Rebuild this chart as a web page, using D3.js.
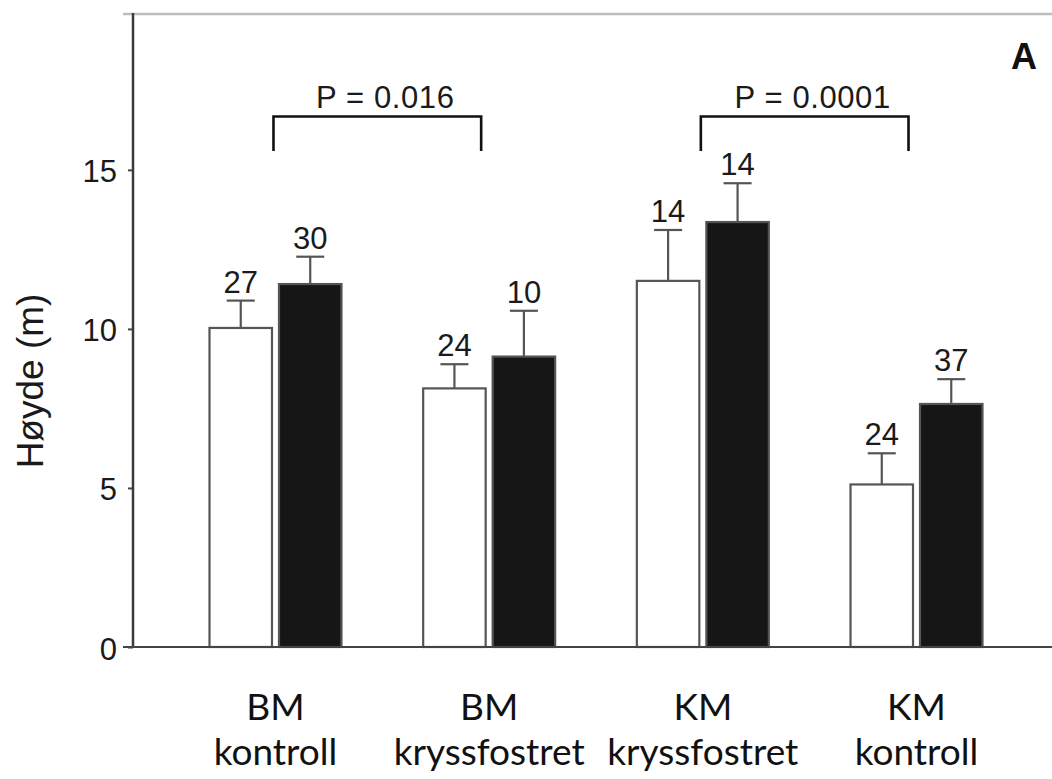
<!DOCTYPE html>
<html>
<head>
<meta charset="utf-8">
<script src="https://cdn.jsdelivr.net/npm/d3@7/dist/d3.min.js"></script>
<style>
  html, body { margin: 0; padding: 0; background: #fff; }
  svg { display: block; }
</style>
</head>
<body>
<svg id="chart" width="1052" height="779"></svg>
<script>
// ---- data ----
const categories = ["BM|kontroll", "BM|kryssfostret", "KM|kryssfostret", "KM|kontroll"];
const seriesKeys = ["open", "filled"];
const openMeans   = [10.03, 8.13, 11.51, 5.11];
const openErrors  = [0.86, 0.76, 1.60, 0.98];
const openN       = [27, 24, 14, 24];
const filledMeans  = [11.41, 9.13, 13.36, 7.64];
const filledErrors = [0.86, 1.44, 1.22, 0.78];
const filledN      = [30, 10, 14, 37];
const yTicks = [0, 5, 10, 15];
const yMax = 19.9;
const comparisons = [
  { from: 0, to: 1, label: "P = 0.016" },
  { from: 2, to: 3, label: "P = 0.0001" }
];
const yTitle = "Høyde (m)";
const panelLetter = "A";

// ---- layout ----
const svg = d3.select("#chart");
const axisX = 133;
const W = 1052;

const y = d3.scaleLinear().domain([0, yMax]).range([647, 14]);
const x = d3.scaleBand().domain(categories).range([168.65, 1023.35])
  .paddingInner(0.373).paddingOuter(0.1865);
const xs = d3.scaleBand().domain(seriesKeys).range([0, x.bandwidth()]).paddingInner(0.072);

const rows = categories.map((c, i) => ({
  cat: c,
  bars: [
    { key: "open", mean: openMeans[i], err: openErrors[i], n: openN[i] },
    { key: "filled", mean: filledMeans[i], err: filledErrors[i], n: filledN[i] }
  ]
}));

const numFont = "'Liberation Sans', Arial, Helvetica, sans-serif";

// top frame line
svg.append("line")
  .attr("x1", 123).attr("x2", W).attr("y1", y(yMax)).attr("y2", y(yMax))
  .attr("stroke", "#bdbdbd").attr("stroke-width", 2.5);

// bars
const g = svg.append("g");
rows.forEach(r => {
  const gx = x(r.cat);
  r.bars.forEach(b => {
    const bx = gx + xs(b.key);
    const bw = xs.bandwidth();
    const cx = bx + bw / 2;
    g.append("line")
      .attr("x1", cx).attr("x2", cx)
      .attr("y1", y(b.mean)).attr("y2", y(b.mean + b.err))
      .attr("stroke", "#555").attr("stroke-width", 2.2);
    g.append("line")
      .attr("x1", cx - 14).attr("x2", cx + 14)
      .attr("y1", y(b.mean + b.err)).attr("y2", y(b.mean + b.err))
      .attr("stroke", "#555").attr("stroke-width", 2.2);
    g.append("rect")
      .attr("x", bx + 1).attr("y", y(b.mean))
      .attr("width", bw - 2).attr("height", y(0) - y(b.mean))
      .attr("fill", b.key === "open" ? "#ffffff" : "#161616")
      .attr("stroke", "#555").attr("stroke-width", 2.2);
    g.append("text")
      .attr("x", cx).attr("y", y(b.mean + b.err) - 8)
      .attr("text-anchor", "middle")
      .attr("font-family", numFont).attr("font-size", 31)
      .attr("fill", "#1a1a1a")
      .text(b.n);
  });
});

// y axis
const yAxis = d3.axisLeft(y).tickValues(yTicks).tickSize(5).tickPadding(11)
  .tickFormat(d3.format("d"));
const ya = svg.append("g").attr("transform", `translate(${axisX},0)`).call(yAxis);
ya.select(".domain").remove();
ya.selectAll(".tick line").attr("stroke", "#444").attr("stroke-width", 2);
ya.selectAll(".tick text")
  .attr("font-family", numFont).attr("font-size", 31).attr("fill", "#1a1a1a")
  .attr("dy", null).attr("dominant-baseline", "auto")
  .attr("y", 12);
svg.append("line")
  .attr("x1", axisX).attr("x2", axisX).attr("y1", y(yMax) - 1).attr("y2", y(0))
  .attr("stroke", "#3a3a3a").attr("stroke-width", 2.5);

// baseline
svg.append("line")
  .attr("x1", 123).attr("x2", W).attr("y1", y(0)).attr("y2", y(0))
  .attr("stroke", "#444").attr("stroke-width", 2.2);

// y title
svg.append("text")
  .attr("transform", `translate(43, ${381}) rotate(-90)`)
  .attr("text-anchor", "middle")
  .attr("font-family", numFont).attr("font-size", 37).attr("fill", "#1a1a1a")
  .text(yTitle);

// panel letter
svg.append("text")
  .attr("x", 1037).attr("y", 69).attr("text-anchor", "end")
  .attr("font-family", numFont).attr("font-weight", "bold").attr("font-size", 36)
  .attr("fill", "#111")
  .text(panelLetter);

// comparison brackets
const brY = 116.5, brBottom = 151;
comparisons.forEach(c => {
  const x1 = x(categories[c.from]) + x.bandwidth() / 2 - 2;
  const x2 = x(categories[c.to]) + x.bandwidth() / 2 - 8;
  svg.append("path")
    .attr("d", `M${x1},${brBottom}V${brY}H${x2}V${brBottom}`)
    .attr("fill", "none").attr("stroke", "#111").attr("stroke-width", 2.6);
  svg.append("text")
    .attr("x", (x1 + x2) / 2 + 8).attr("y", brY - 9)
    .attr("text-anchor", "middle")
    .attr("font-family", numFont).attr("font-size", 31).attr("fill", "#1a1a1a")
    .attr("letter-spacing", 0.6)
    .text(c.label);
});

// category labels
const catFont = "Lato, 'Open Sans', sans-serif";
categories.forEach(c => {
  const [l1, l2] = c.split("|");
  const cx = x(c) + x.bandwidth() / 2;
  const t = svg.append("text")
    .attr("text-anchor", "middle")
    .attr("font-family", catFont).attr("font-size", 37).attr("fill", "#111");
  t.append("tspan").attr("x", cx).attr("y", 720).text(l1);
  t.append("tspan").attr("x", cx).attr("y", 765).text(l2);
});
</script>
</body>
</html>
